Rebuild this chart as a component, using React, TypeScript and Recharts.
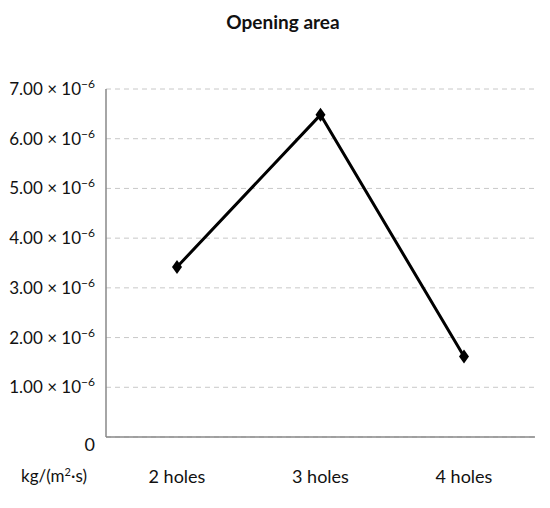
import * as React from 'react';
import { LineChart, Line, XAxis, YAxis, CartesianGrid } from 'recharts';

const categories = ['2 holes', '3 holes', '4 holes'];
const values = [3.42, 6.48, 1.62]; // × 10⁻⁶ kg/(m²·s)
const yTicks = [0, 1, 2, 3, 4, 5, 6, 7];

const chartData = categories.map((name, i) => ({ name, value: values[i] }));

const FONT = 'Lato, "Open Sans", sans-serif';

const YTick = (props: any) => {
  const { x, y, payload } = props;
  if (payload.value === 0) {
    return (
      <text x={x - 3} y={y + 14} textAnchor="end" fontSize={18} fill="#111" fontFamily={FONT}>
        0
      </text>
    );
  }
  return (
    <text x={x - 3} y={y + 6} textAnchor="end" fontSize={17} fill="#111" fontFamily={FONT}>
      {`${payload.value.toFixed(2)} × 10`}
      <tspan fontSize={12} dy={-7}>−6</tspan>
    </text>
  );
};

const XTick = (props: any) => {
  const { x, y, payload } = props;
  return (
    <text x={x} y={y + 38} textAnchor="middle" fontSize={18} fill="#111" fontFamily={FONT}>
      {payload.value}
    </text>
  );
};

const Diamond = (props: any) => {
  const { cx, cy } = props;
  if (cx == null || cy == null) return null;
  return <path d={`M${cx},${cy - 7} L${cx + 5},${cy} L${cx},${cy + 7} L${cx - 5},${cy} Z`} fill="#000" />;
};

export default function App() {
  return (
    <div style={{ position: 'absolute', left: 0, top: 0, width: 550, height: 508, background: '#fff' }}>
      <LineChart width={550} height={508} data={chartData} margin={{ top: 89, right: 15, left: 0, bottom: 11 }}>
        <text x={283} y={29} textAnchor="middle" fontSize={19} fontWeight="bold" fill="#111" fontFamily={FONT}>
          Opening area
        </text>
        <CartesianGrid vertical={false} stroke="#c8c8c8" strokeDasharray="5 4" />
        <XAxis
          dataKey="name"
          height={60}
          padding={{ left: 71, right: 71 }}
          axisLine={{ stroke: '#888', strokeWidth: 1.5 }}
          tickLine={false}
          tick={<XTick />}
        />
        <YAxis
          width={106}
          domain={[0, 7]}
          ticks={yTicks}
          axisLine={{ stroke: '#888', strokeWidth: 1.5 }}
          tickLine={false}
          tick={<YTick />}
        />
        <Line
          type="linear"
          dataKey="value"
          stroke="#000"
          strokeWidth={3}
          dot={<Diamond />}
          activeDot={false}
          isAnimationActive={false}
        />
        <text x={54} y={482} textAnchor="middle" fontSize={17} fill="#111" fontFamily={FONT}>
          kg/(m
          <tspan fontSize={11} dy={-6}>2</tspan>
          <tspan dy={6}>·s)</tspan>
        </text>
      </LineChart>
    </div>
  );
}
